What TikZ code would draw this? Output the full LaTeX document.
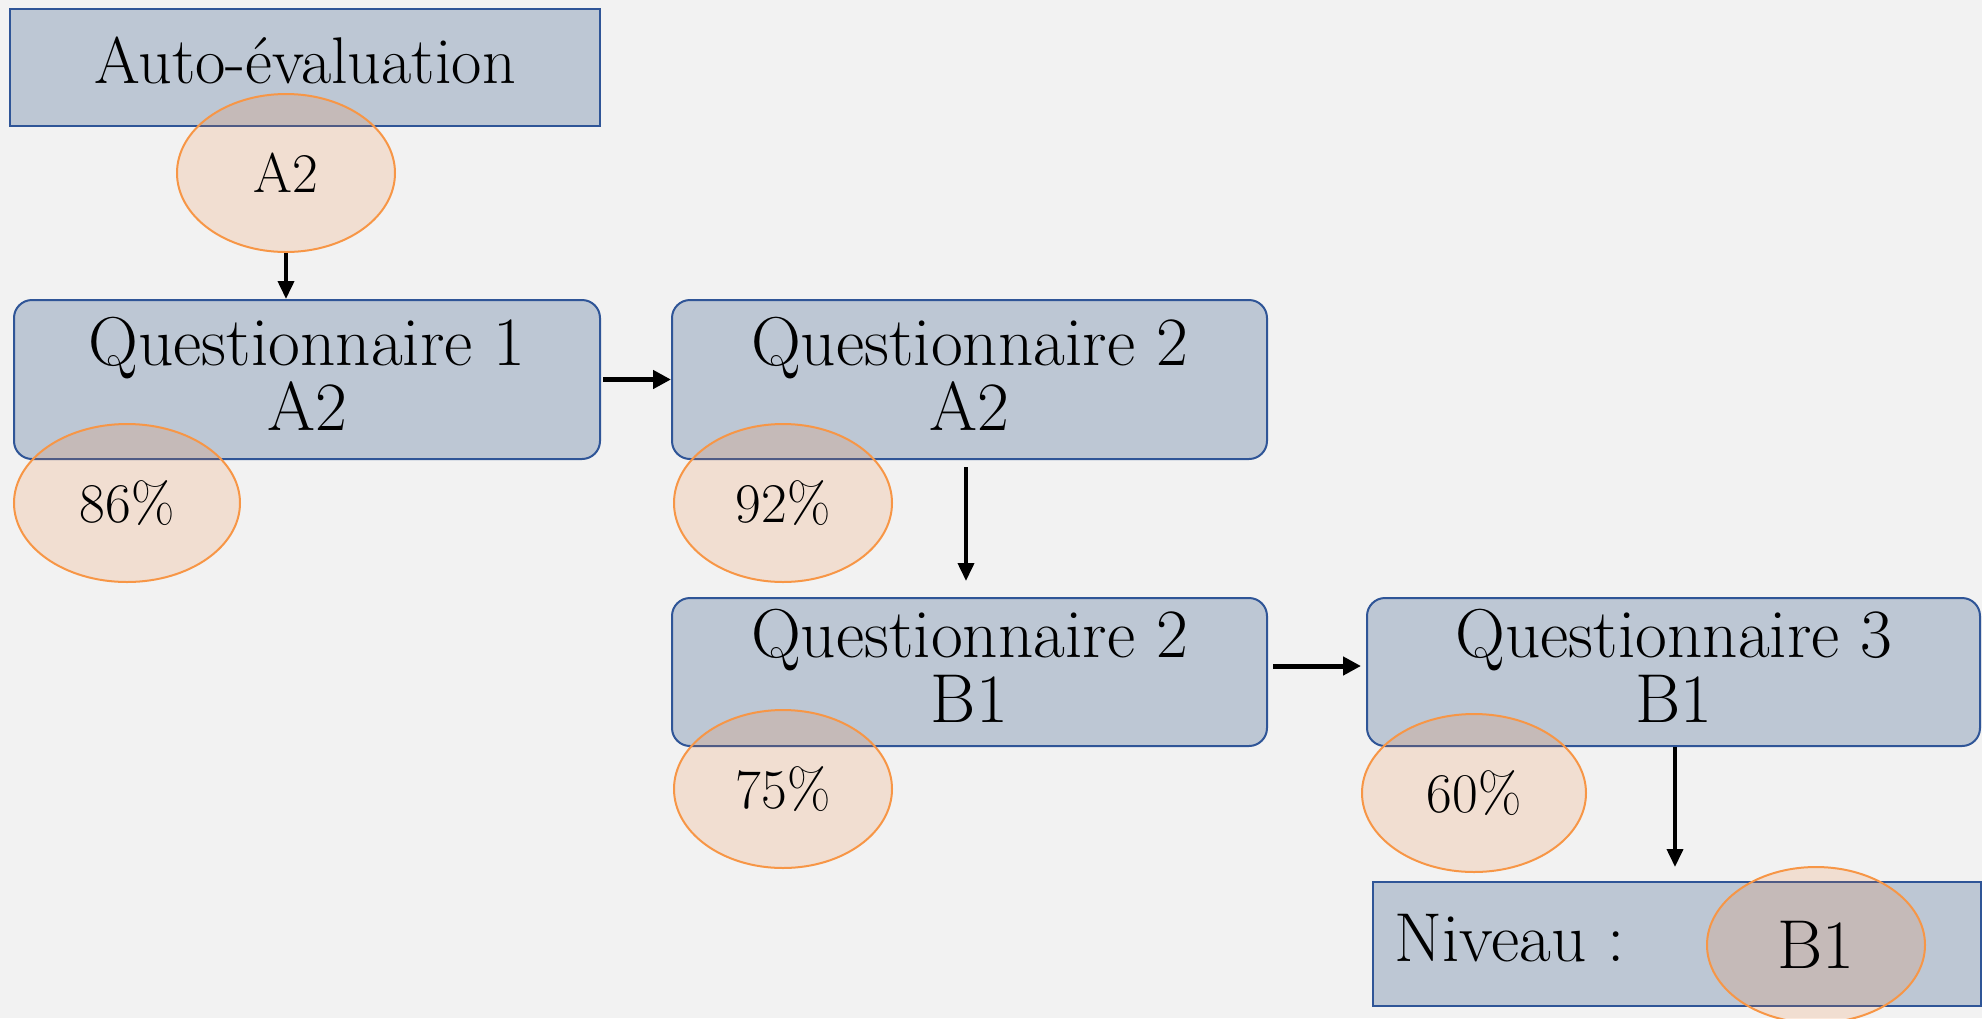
\documentclass[tikz,border=0pt]{standalone}
\usetikzlibrary{shapes.geometric,arrows.meta}
\definecolor{bg}{HTML}{F2F2F2}
\definecolor{boxfill}{HTML}{BDC7D4}
\definecolor{boxline}{HTML}{2F5597}
\definecolor{ovfill}{HTML}{ED7D31}
\definecolor{ovline}{HTML}{F79646}
\begin{document}
\begin{tikzpicture}[x=0.5pt,y=-0.5pt,
  box/.style={draw=boxline,fill=boxfill,line width=1pt,inner sep=0pt},
  rbox/.style={box,rounded corners=9pt},
  bigtext/.style={inner sep=0pt,align=center,font=\fontsize{34.6}{32.4}\selectfont},
  oval/.style={ellipse,draw=ovline,line width=1pt,fill=ovfill,fill opacity=0.17,text opacity=1,inner sep=0pt,font=\fontsize{28}{30}\selectfont},
  harr/.style={-{Triangle[length=9pt,width=9pt]},line width=2.5pt},
  varr/.style={-{Triangle[length=9pt,width=8pt]},line width=1.9pt}]
\fill[bg] (0,0) rectangle (1982,1018);
\useasboundingbox (0,0) rectangle (1982,1018);
% boxes
\node[box,minimum width=295pt,minimum height=58.5pt] (auto) at (305,67.5) {};
\node[bigtext,font=\fontsize{33}{36}\selectfont] (tauto) at (305,60) {Auto-évaluation};
\node[rbox,minimum width=293pt,minimum height=79.5pt] (q1) at (307,379.5) {};
\node[bigtext] (tq1) at (307,374) {Questionnaire 1\\A2};
\node[rbox,minimum width=297.5pt,minimum height=79.5pt] (q2a) at (969.5,379.5) {};
\node[bigtext] (tq2a) at (969.5,374) {Questionnaire 2\\A2};
\node[rbox,minimum width=297.5pt,minimum height=74pt] (q2b) at (969.5,672) {};
\node[bigtext] (tq2b) at (969.5,666) {Questionnaire 2\\B1};
\node[rbox,minimum width=306.5pt,minimum height=74pt] (q3) at (1673.5,672) {};
\node[bigtext] (tq3) at (1674,666) {Questionnaire 3\\B1};
\node[box,minimum width=304pt,minimum height=62pt] (niv) at (1677,944) {};
\node[bigtext,anchor=west] (tniv) at (1394,938) {Niveau :};
% ovals
\node[oval,minimum width=109pt,minimum height=79pt] (e0) at (286,173) {A2};
\node[oval,minimum width=113pt,minimum height=79pt] (e1) at (127,503) {86\%};
\node[oval,minimum width=109pt,minimum height=79pt] (e2) at (783,503) {92\%};
\node[oval,minimum width=109pt,minimum height=79pt] (e3) at (783,789) {75\%};
\node[oval,minimum width=112pt,minimum height=79pt] (e4) at (1474,793) {60\%};
\node[oval,minimum width=109pt,minimum height=78pt,font=\fontsize{34.6}{36}\selectfont] (e5) at (1816,945) {B1};
% arrows
\draw[varr] (e0.south) -- (e0.south |- q1.north);
\draw[harr] ([xshift=1pt]q1.east) -- (q2a.west);
\draw[varr] ([xshift=-1.75pt,yshift=-3.5pt]q2a.south) -- ([xshift=-1.75pt,yshift=8pt]q2b.north);
\draw[harr] ([xshift=2.5pt,yshift=3pt]q2b.east) -- ([xshift=-2.5pt,yshift=3pt]q3.west);
\draw[varr] ([xshift=0.75pt]q3.south) -- ([xshift=0.75pt,yshift=7pt]q3.south |- niv.north);
\end{tikzpicture}
\end{document}
